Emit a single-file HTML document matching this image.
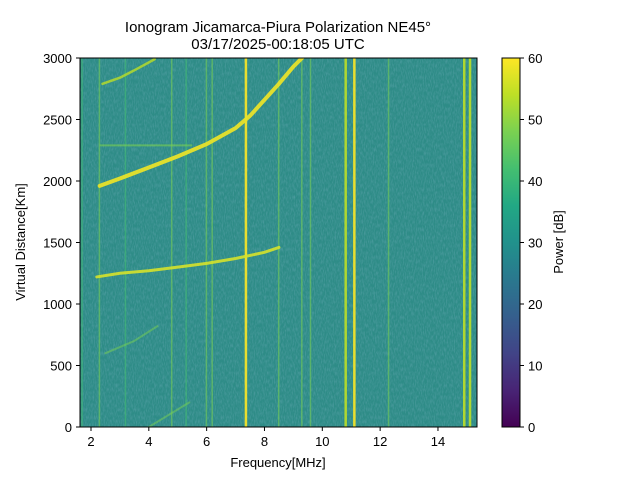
<!DOCTYPE html>
<html><head><meta charset="utf-8"><style>
body{margin:0;background:#fff;}
svg text{font-family:"Liberation Sans","DejaVu Sans",sans-serif;fill:#000;}
</style></head><body>
<svg id="chart" width="640" height="480" viewBox="0 0 640 480">
<defs>
<linearGradient id="vir" x1="0" y1="1" x2="0" y2="0">
<stop offset="0" stop-color="#440154"/><stop offset="0.1" stop-color="#482475"/><stop offset="0.2" stop-color="#414487"/><stop offset="0.3" stop-color="#355f8d"/><stop offset="0.4" stop-color="#2a788e"/><stop offset="0.5" stop-color="#21918c"/><stop offset="0.6" stop-color="#22a884"/><stop offset="0.7" stop-color="#44bf70"/><stop offset="0.8" stop-color="#7ad151"/><stop offset="0.9" stop-color="#bddf26"/><stop offset="1" stop-color="#fde725"/>
</linearGradient>
<clipPath id="pc"><rect x="80" y="58" width="397" height="369"/></clipPath>
<filter id="noise" x="0" y="0" width="100%" height="100%">
<feTurbulence type="fractalNoise" baseFrequency="0.9 0.25" numOctaves="2" seed="3"/>
<feColorMatrix type="matrix" values="0 0 0 0 0.2  0 0 0 0 0.45  0 0 0 0 0.55  0 0 0 1.2 -0.45"/>
</filter>
</defs>
<text x="278" y="32" text-anchor="middle" font-size="15">Ionogram Jicamarca-Piura Polarization NE45°</text>
<text x="278" y="49" text-anchor="middle" font-size="15">03/17/2025-00:18:05 UTC</text>
<rect x="80" y="58" width="397" height="369" fill="#2e8c87"/>
<rect x="80" y="58" width="397" height="369" filter="url(#noise)" opacity="0.6"/>
<g id="marks" clip-path="url(#pc)"></g>
<rect x="80" y="58" width="397" height="369" fill="none" stroke="#000" stroke-width="1"/>
<g id="axes"></g>
<text x="278" y="467" text-anchor="middle" font-size="13">Frequency[MHz]</text>
<text transform="translate(25,242) rotate(-90)" text-anchor="middle" font-size="13">Virtual Distance[Km]</text>
<rect x="502" y="58" width="18" height="369" fill="url(#vir)" stroke="#000" stroke-width="1"/>
<text transform="translate(563,242) rotate(-90)" text-anchor="middle" font-size="13">Power [dB]</text>
</svg>
<script>
const xTicks=[2,4,6,8,10,12,14];
const yTicks=[0,500,1000,1500,2000,2500,3000];
const cTicks=[0,10,20,30,40,50,60];
const stripeFreq=[1.7,2.3,3.2,4.8,5.3,6.0,6.2,7.35,8.5,9.3,9.6,10.8,11.1,12.3,14.9,15.1];
const stripeDb=[42,48,42,45,42,48,45,60,50,45,45,55,58,48,55,55];
const traceMainF=[2.3,3,4,5,6,7,7.5,8,8.5,9,9.3];
const traceMainH=[1960,2020,2110,2200,2300,2430,2530,2660,2790,2930,3000];
const traceTopF=[2.4,3,3.5,4.2];
const traceTopH=[2790,2840,2900,2990];
const traceMidF=[2.2,3,4,5,6,7,8,8.5];
const traceMidH=[1220,1250,1270,1300,1330,1370,1420,1460];
const traceLowF=[2.5,3.5,4.3];
const traceLowH=[600,700,820];
const traceBotF=[4,4.7,5.4];
const traceBotH=[0,100,200];
const xmin=1.62,xmax=15.35,ymin=0,ymax=3000;
const X=f=>80+(f-xmin)/(xmax-xmin)*397;
const Y=h=>427-(h-ymin)/(ymax-ymin)*369;
const CY=v=>427-v/60*369;
const vir=['#440154','#482475','#414487','#355f8d','#2a788e','#21918c','#22a884','#44bf70','#7ad151','#bddf26','#fde725'];
const col=d=>vir[Math.max(0,Math.min(10,Math.round(d/6)))];
const NS='http://www.w3.org/2000/svg';
const marks=document.getElementById('marks'),axes=document.getElementById('axes');
function mk(t,a,p){const e=document.createElementNS(NS,t);for(const k in a)e.setAttribute(k,a[k]);p.appendChild(e);return e;}
stripeFreq.forEach((f,i)=>{
 const strong=stripeDb[i]>=55;
 const r=mk('rect',{x:X(f)-1,y:58,width:strong?2.5:1.5,height:369,fill:col(stripeDb[i]),opacity:strong?0.9:0.55},marks);
 
 
});
const hl=mk('line',{x1:X(2.3),x2:X(5.5),y1:Y(2290),y2:Y(2290),stroke:'#7ad151','stroke-width':2,opacity:0.6},marks);


function trace(F,H,name,w,c,o){
 const p=mk('polyline',{points:F.map((f,i)=>X(f)+','+Y(H[i])).join(' '),fill:'none',stroke:c,'stroke-width':w,'stroke-linecap':'round',opacity:o},marks);
 
 
}
trace(traceMainF,traceMainH,'trace-f2-main',4,'#e8e12a',0.95);
trace(traceTopF,traceTopH,'trace-second-hop',2.5,'#bddf26',0.8);
trace(traceMidF,traceMidH,'trace-1250km',3,'#d6e22b',0.9);
trace(traceLowF,traceLowH,'trace-low',2,'#7ad151',0.5);
trace(traceBotF,traceBotH,'trace-bottom',2,'#7ad151',0.5);
xTicks.forEach(v=>{
 const x=X(v);
 const l=mk('line',{x1:x,x2:x,y1:427,y2:431,stroke:'#000'},axes);
 
 const t=mk('text',{x:x,y:446,'text-anchor':'middle','font-size':13},axes);t.textContent=v;
 
});
yTicks.forEach(v=>{
 const y=Y(v);
 const l=mk('line',{x1:76,x2:80,y1:y,y2:y,stroke:'#000'},axes);
 
 const t=mk('text',{x:72,y:y+5,'text-anchor':'end','font-size':13},axes);t.textContent=v;
 
});
cTicks.forEach(v=>{
 const y=CY(v);
 const l=mk('line',{x1:520,x2:524,y1:y,y2:y,stroke:'#000'},axes);
 
 const t=mk('text',{x:528,y:y+5,'font-size':13},axes);t.textContent=v;
 
});
</script>
</body></html>
